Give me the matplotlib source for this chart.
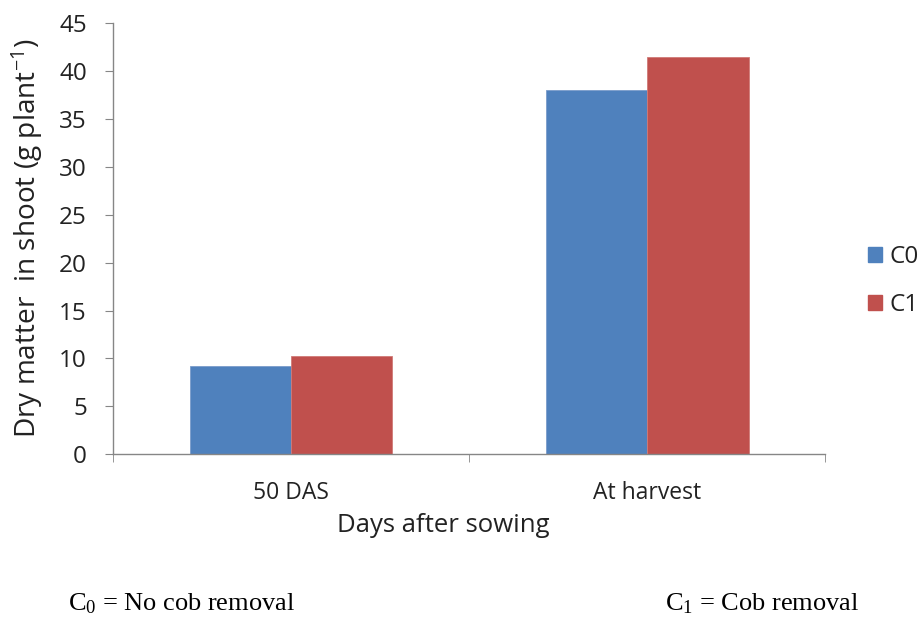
import numpy as np
import matplotlib
matplotlib.use('Agg')
import matplotlib.pyplot as plt
from matplotlib.patches import Patch

# dry matter in shoot (g/plant)
stages = ['50 DAS', 'At harvest']
c0_values = [9.2, 38.0]
c1_values = [10.3, 41.45]
series_names = ['C0', 'C1']

blue = '#4F81BD'
red = '#C0504D'
grey = '#868686'

plt.rcParams['font.family'] = ['Open Sans', 'DejaVu Sans']

fig = plt.figure(figsize=(9.2, 6.17), dpi=100)
ax = fig.add_axes([0.1228, 0.2637, 0.774, 0.699])

x = np.arange(len(stages))
w = 0.285
ax.bar(x - w / 2, c0_values, w, color=blue, edgecolor='#7A9CCB', linewidth=0.6)
ax.bar(x + w / 2, c1_values, w, color=red, edgecolor='#D07A77', linewidth=0.6)

ax.set_xlim(-0.5, 1.5)
ax.set_ylim(0, 45)
ax.set_yticks(np.arange(0, 46, 5))
ax.set_xticks(x)
ax.set_xticklabels(stages, fontsize=16.5, color='#222222')
ax.tick_params(axis='y', labelsize=17.5, length=5.8, color=grey, pad=13, labelcolor='#222222')
ax.tick_params(axis='x', length=0, pad=19)

# category boundary ticks below the axis
ax.set_xticks([-0.5, 0.5, 1.5], minor=True)
ax.tick_params(axis='x', which='minor', length=6, color=grey)

for side in ['top', 'right']:
    ax.spines[side].set_visible(False)
for side in ['left', 'bottom']:
    ax.spines[side].set_color(grey)
    ax.spines[side].set_linewidth(1.0)

ax.set_ylabel(r'Dry matter  in shoot (g plant$\mathregular{^{-1}}$)', fontsize=20.2,
              labelpad=10, color='#222222')
fig.text(443 / 920, 1 - 525 / 617, 'Days after sowing', fontsize=18.5,
         ha='center', va='center', color='#222222')

handles = [Patch(color=blue), Patch(color=red)]
fig.legend(handles, series_names, loc='center left', bbox_to_anchor=(868 / 920, 1 - 281 / 617),
           frameon=False, fontsize=17.5, handlelength=0.57, handleheight=0.57,
           handletextpad=0.3, labelspacing=0.98, borderaxespad=0, borderpad=0,
           labelcolor='#222222')

# notes under the chart
fig.text(68 / 920, 1 - 604 / 617, r'C$\mathregular{_0}$ = No cob removal', fontsize=19,
         family=['Liberation Serif'], va='center')
fig.text(665 / 920, 1 - 604 / 617, r'C$\mathregular{_1}$ = Cob removal', fontsize=19,
         family=['Liberation Serif'], va='center')

fig.savefig('out.png', dpi=100)
